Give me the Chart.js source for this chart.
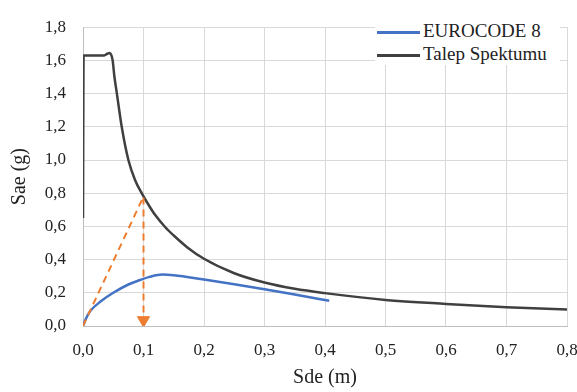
<!DOCTYPE html>
<html>
<head>
<meta charset="utf-8">
<script src="https://cdn.jsdelivr.net/npm/chart.js@4"></script>
<style>
  body { margin: 0; background: #fff; }
  #wrap { position: relative; width: 577px; height: 392px; }
  #legend {
    position: absolute; left: 375px; top: 17px; width: 185px; height: 48px;
    background: #fff; font-family: 'Liberation Serif';
    font-size: 19px; color: #222;
  }
  .item { position: absolute; left: 2px; height: 21px; line-height: 21px; white-space: nowrap; }
  .item span.sw { display: inline-block; width: 43px; height: 3px; vertical-align: middle; margin-right: 3px; }
</style>
</head>
<body>
<div id="wrap">
  <canvas id="chart" width="577" height="392"></canvas>
  <div id="legend">
    <div class="item" style="top:3px"><span class="sw" style="background:#4472c4"></span>EUROCODE 8</div>
    <div class="item" style="top:26px"><span class="sw" style="background:#404040"></span>Talep Spektumu</div>
  </div>
</div>
<script>
// Talep spektrumu (ADRS)
const sdDemand = [0, 0.001, 0.02, 0.035, 0.040, 0.044, 0.047, 0.049, 0.052, 0.056, 0.064, 0.075, 0.086, 0.097, 0.11, 0.12, 0.136, 0.15, 0.172, 0.2, 0.25, 0.3, 0.35, 0.4, 0.5, 0.6, 0.7, 0.8];
const saDemand = [0.65, 1.63, 1.63, 1.63, 1.64, 1.645, 1.63, 1.6, 1.5, 1.4, 1.2, 1.0, 0.88, 0.8, 0.72, 0.665, 0.595, 0.545, 0.475, 0.405, 0.318, 0.262, 0.224, 0.198, 0.157, 0.133, 0.113, 0.099];

// EUROCODE 8 kapasite egrisi
const sdEc8 = [0, 0.005, 0.012, 0.03, 0.05, 0.075, 0.094, 0.11, 0.131, 0.15, 0.2, 0.25, 0.3, 0.35, 0.407];
const saEc8 = [0, 0.045, 0.09, 0.15, 0.2, 0.25, 0.277, 0.296, 0.31, 0.306, 0.28, 0.252, 0.222, 0.19, 0.152];

// performans noktasi oku
const sdArrow = [0, 0.1, 0.1];
const saArrow = [0, 0.78, 0.06];
const arrowHead = { x: 0.1, y: 0.035 };

const xTicks = [0, 0.1, 0.2, 0.3, 0.4, 0.5, 0.6, 0.7, 0.8];
const yTicks = [0, 0.2, 0.4, 0.6, 0.8, 1.0, 1.2, 1.4, 1.6, 1.8];

const toPoints = (xs, ys) => xs.map((x, i) => ({ x: x, y: ys[i] }));
const fmt = v => v.toFixed(1).replace('.', ',');
const serif = "'Liberation Serif'";

function drawChart() {
    new Chart(document.getElementById('chart'), {
        type: 'line',
        data: {
            datasets: [
                {
                    label: 'ok',
                    data: toPoints(sdArrow, saArrow),
                    borderColor: '#ed7d31',
                    borderWidth: 2,
                    borderDash: [7, 5],
                    pointRadius: 0,
                    tension: 0
                },
                {
                    label: 'ok ucu',
                    data: [arrowHead],
                    showLine: false,
                    pointStyle: 'triangle',
                    rotation: 180,
                    pointRadius: 7,
                    backgroundColor: '#ed7d31',
                    borderColor: '#ed7d31',
                    borderWidth: 1
                },
                {
                    label: 'EUROCODE 8',
                    data: toPoints(sdEc8, saEc8),
                    borderColor: '#4472c4',
                    borderWidth: 2.5,
                    pointRadius: 0,
                    cubicInterpolationMode: 'monotone'
                },
                {
                    label: 'Talep Spektumu',
                    data: toPoints(sdDemand, saDemand),
                    borderColor: '#404040',
                    borderWidth: 2.5,
                    pointRadius: 0,
                    cubicInterpolationMode: 'monotone'
                }
            ]
        },
        options: {
            responsive: false,
            devicePixelRatio: 1,
            animation: false,
            layout: { padding: { top: 17, right: 0, bottom: 2, left: 0 } },
            plugins: {
                legend: { display: false },
                tooltip: { enabled: false }
            },
            scales: {
                x: {
                    type: 'linear',
                    min: 0,
                    max: 0.8,
                    afterBuildTicks: scale => { scale.ticks = xTicks.map(v => ({ value: v })); },
                    afterFit: scale => {
                        scale.height = 64;
                        scale.paddingRight = 10;
                    },
                    grid: { color: '#d9d9d9', drawTicks: false },
                    border: { color: '#bfbfbf' },
                    ticks: {
                        padding: 14,
                        color: '#222',
                        font: { family: serif, size: 17 },
                        callback: v => fmt(v)
                    },
                    title: {
                        display: true,
                        text: 'Sde (m)',
                        color: '#222',
                        font: { family: serif, size: 20 },
                        padding: { top: 0, bottom: 0 }
                    }
                },
                y: {
                    min: 0,
                    max: 1.8,
                    afterBuildTicks: scale => { scale.ticks = yTicks.map(v => ({ value: v })); },
                    afterFit: scale => { scale.width = 83; },
                    grid: { color: '#d9d9d9', drawTicks: false },
                    border: { color: '#bfbfbf' },
                    ticks: {
                        padding: 17,
                        color: '#222',
                        font: { family: serif, size: 17 },
                        callback: v => fmt(v)
                    },
                    title: {
                        display: true,
                        text: 'Sae (g)',
                        color: '#222',
                        font: { family: serif, size: 20 },
                        padding: { top: 8, bottom: 0 }
                    }
                }
            }
        }
    });
}

// fontun yuklenmesini bekle
document.fonts.load("17px 'Liberation Serif'").then(drawChart, drawChart);
</script>
</body>
</html>
